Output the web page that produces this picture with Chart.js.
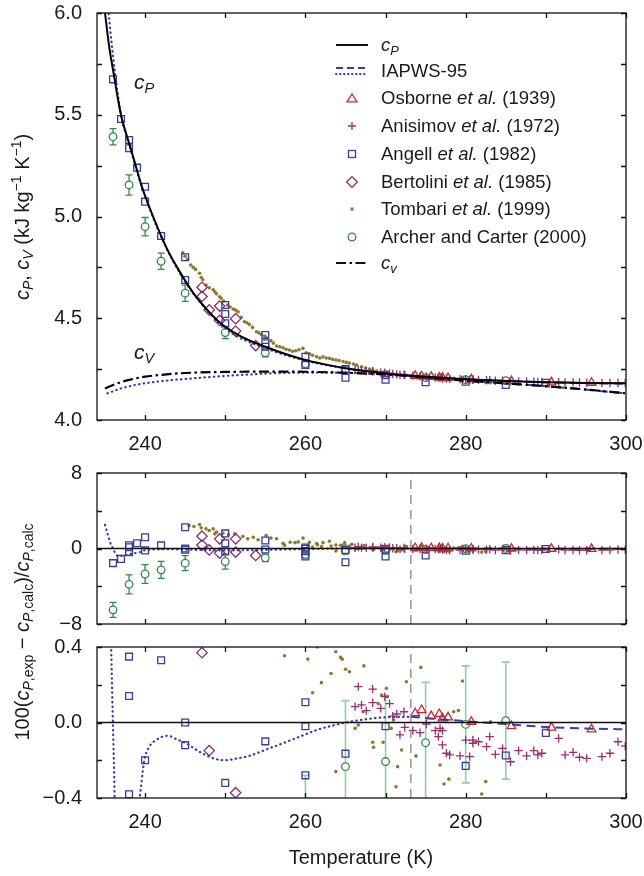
<!DOCTYPE html>
<html>
<head>
<meta charset="utf-8">
<title>Heat capacity of supercooled water</title>
<script src="https://cdn.jsdelivr.net/npm/chart.js@4.4.1/dist/chart.umd.min.js"></script>
<style>
  html, body { margin: 0; padding: 0; background: #fff; }
  body { position: relative; width: 644px; height: 876px; overflow: hidden;
         font-family: "Liberation Sans", Arial, Helvetica, sans-serif; color: #1a1a1a; }
  canvas { position: absolute; left: 0; }
  .txt { position: absolute; white-space: nowrap; }
  .ytitle { position: absolute; white-space: nowrap; font-size: 20px; line-height: 24px;
            transform: translate(-50%, -50%) rotate(-90deg); }
  sub, sup { font-size: 70%; line-height: 0; }
  sub { vertical-align: -0.3em; }
  sup { vertical-align: 0.6em; }
  .leg { position: absolute; left: 381px; font-size: 18.5px; line-height: 22px; height: 22px; white-space: nowrap; }
  .sym { position: absolute; left: 335px; width: 34px; height: 20px; }
</style>
</head>
<body>
<canvas id="cTop" width="644" height="460" style="top:0"></canvas>
<canvas id="cMid" width="644" height="180" style="top:458px"></canvas>
<canvas id="cBot" width="644" height="242" style="top:634px"></canvas>

<div class="ytitle" style="left:22px;top:217px"><i>c</i><sub><i>P</i></sub>, <i>c</i><sub><i>V</i></sub> (kJ kg<sup>−1</sup> K<sup>−1</sup>)</div>
<div class="ytitle" style="left:22px;top:632px">100(<i>c</i><sub><i>P</i>,exp</sub> − <i>c</i><sub><i>P</i>,calc</sub>)/<i>c</i><sub><i>P</i>,calc</sub></div>
<div class="txt" style="left:361px;top:846px;font-size:20px;transform:translateX(-50%)">Temperature (K)</div>

<div class="txt" style="left:134px;top:70px;font-size:21px"><i>c</i><sub><i>P</i></sub></div>
<div class="txt" style="left:134px;top:340px;font-size:21px"><i>c</i><sub><i>V</i></sub></div>

<svg class="sym" style="top:35px"><line x1="1" y1="10" x2="33" y2="10" stroke="#111" stroke-width="2"/></svg>
<div class="leg" style="top:34px"><i>c</i><sub><i>P</i></sub></div>
<svg class="sym" style="top:60.5px"><line x1="1" y1="7" x2="33" y2="7" stroke="#3a3ca8" stroke-width="2" stroke-dasharray="7,4"/><line x1="1" y1="13" x2="33" y2="13" stroke="#3a3ca8" stroke-width="2" stroke-dasharray="0.5,3.5" stroke-linecap="round"/></svg>
<div class="leg" style="top:59.5px">IAPWS-95</div>
<svg class="sym" style="top:88px"><polygon points="17,6 22,13.8 12,13.8" fill="none" stroke="#c22a2f" stroke-width="1.3"/></svg>
<div class="leg" style="top:87px">Osborne <i>et al.</i> (1939)</div>
<svg class="sym" style="top:116px"><path d="M17 6 V14 M13 10 H21" stroke="#9a2e6e" stroke-width="1.3"/></svg>
<div class="leg" style="top:115px">Anisimov <i>et al.</i> (1972)</div>
<svg class="sym" style="top:144px"><rect x="13.5" y="6.5" width="7" height="7" fill="none" stroke="#3a3c9c" stroke-width="1.3"/></svg>
<div class="leg" style="top:143px">Angell <i>et al.</i> (1982)</div>
<svg class="sym" style="top:171.5px"><polygon points="17,4.6 22.4,10 17,15.4 11.6,10" fill="none" stroke="#8c2c66" stroke-width="1.3"/></svg>
<div class="leg" style="top:170.5px">Bertolini <i>et al.</i> (1985)</div>
<svg class="sym" style="top:199px"><circle cx="17" cy="10" r="1.8" fill="#8a7c2c"/></svg>
<div class="leg" style="top:198px">Tombari <i>et al.</i> (1999)</div>
<svg class="sym" style="top:226.5px"><circle cx="17" cy="10" r="3.8" fill="none" stroke="#2f8a4c" stroke-width="1.3"/></svg>
<div class="leg" style="top:225.5px">Archer and Carter (2000)</div>
<svg class="sym" style="top:253px"><line x1="1" y1="10" x2="33" y2="10" stroke="#111" stroke-width="2" stroke-dasharray="10,3.5,2.5,3.5"/></svg>
<div class="leg" style="top:252px"><i>c</i><sub><i>v</i></sub></div>

<script>
// ---- axes ----
const xMin = 234, xMax = 300;
const xTickLabels = [240, 260, 280, 300];
const xTickMarks = [240, 250, 260, 270, 280, 290, 300];
const cpTickLabels = [4.0, 4.5, 5.0, 5.5, 6.0];
const cpTickMarks = [4.25, 4.5, 4.75, 5.0, 5.25, 5.5, 5.75];
const devTickLabels = [-8, 0, 8];
const devTickMarks = [-4, 4];
const zoomTickLabels = [-0.4, 0, 0.4];
const zoomTickMarks = [-0.2, 0.2];

// ---- curves (kJ/kg/K) ----
const cpT = [235, 235.5, 236, 236.2, 236.6, 237.1, 237.5, 238, 238.5, 238.9,
  239.6, 240.3, 241, 242, 243, 244, 245, 246, 247, 248,
  249, 250, 252, 255, 258, 260, 262, 265, 268, 270,
  273, 276, 280, 285, 290, 295, 300];
const cpVal = [6.00, 5.84, 5.72, 5.674, 5.58, 5.48, 5.425, 5.36, 5.295, 5.24,
  5.146, 5.07, 5.00, 4.905, 4.82, 4.75, 4.685, 4.625, 4.575, 4.53,
  4.49, 4.458, 4.41, 4.36, 4.318, 4.295, 4.277, 4.254, 4.238, 4.229,
  4.218, 4.21, 4.200, 4.192, 4.186, 4.182, 4.180];
const cvT = [235, 236, 237, 238, 239, 240, 242, 245, 250, 255, 260, 265, 270, 273, 276, 280, 285, 290, 295, 300];
const cvVal = [4.155, 4.172, 4.186, 4.197, 4.206, 4.213, 4.222, 4.231, 4.236, 4.238, 4.237, 4.232, 4.224, 4.216, 4.206, 4.193, 4.180, 4.166, 4.150, 4.131];

const iapwsCpT = [235.4, 235.8, 236.2, 236.6, 237.1, 238, 239, 240, 242, 245, 250, 255, 260, 265, 270, 273.15];
const iapwsCp = [6.02, 5.86, 5.72, 5.60, 5.48, 5.355, 5.22, 5.10, 4.90, 4.68, 4.45, 4.353, 4.292, 4.254, 4.23, 4.219];
const iapwsCpHiT = [273.15, 280, 290, 300];
const iapwsCpHi = [4.219, 4.200, 4.185, 4.178];
const iapwsCvT = [235.3, 237, 239, 241, 243, 245.5, 248, 251.8, 255, 258, 262, 266, 270, 273.15];
const iapwsCv = [4.131, 4.155, 4.174, 4.186, 4.195, 4.203, 4.211, 4.221, 4.228, 4.232, 4.233, 4.231, 4.223, 4.215];
const iapwsCvHiT = [273.15, 280, 290, 300];
const iapwsCvHi = [4.215, 4.193, 4.166, 4.131];

// IAPWS-95 deviation from cP,calc (%)
const iapwsDevT = [235.0, 235.3, 235.6, 235.9, 236.1, 236.4, 236.8, 237.5, 238.5, 239.3,
  239.9, 240.5, 241.5, 242.8, 244, 245.1, 247, 248.5, 250, 251.5,
  253, 255, 257.2, 259.3, 261.4, 263.5, 265.5, 267.5, 269.7, 273.15];
const iapwsDev = [2.5, 1.6, 0.75, 0.15, -0.2, -0.7, -0.8, -0.7, -0.52, -0.4,
  -0.2, -0.13, -0.09, -0.07, -0.09, -0.11, -0.16, -0.19, -0.2, -0.19,
  -0.177, -0.145, -0.11, -0.075, -0.04, -0.015, 0.004, 0.017, 0.027, 0.03];
const iapwsDevHiT = [273.15, 276.8, 280, 285, 290, 295, 300];
const iapwsDevHi = [0.03, 0.017, 0.007, -0.008, -0.024, -0.032, -0.036];

// ---- measurements ----
const osborneT = [273.7, 274.5, 275.7, 276.7, 277.1, 277.8, 280.7, 285.7, 290.7, 295.7];
const osborneCp = [4.217, 4.215, 4.212, 4.209, 4.208, 4.206, 4.200, 4.191, 4.185, 4.183];
const osborneDev = [0.049, 0.066, 0.034, 0.045, 0.022, 0.027, 0.004, -0.019, -0.027, -0.036];

const anisimovT = [266.2, 266.6, 267.0, 267.6, 268.4, 268.4, 269.4, 269.9, 270.5, 270.9,
  271.4, 271.8, 272.3, 272.4, 273.4, 274.3, 275.1, 276.2, 276.6, 276.8,
  277.1, 277.1, 277.6, 278.0, 279.3, 280.0, 280.5, 280.9, 280.9, 281.6,
  282.6, 283.0, 283.7, 284.6, 285.6, 286.6, 287.6, 288.5, 289.0, 289.5,
  291.6, 292.4, 293.4, 294.2, 295.1, 297.0, 298.0, 299.0, 299.9];
const anisimovCp = [4.248, 4.246, 4.243, 4.240, 4.240, 4.238, 4.233, 4.232, 4.229, 4.226,
  4.224, 4.222, 4.222, 4.221, 4.218, 4.215, 4.213, 4.209, 4.208, 4.208,
  4.206, 4.205, 4.204, 4.203, 4.201, 4.200, 4.198, 4.199, 4.198, 4.197,
  4.195, 4.195, 4.193, 4.193, 4.191, 4.190, 4.189, 4.188, 4.187, 4.187,
  4.186, 4.185, 4.185, 4.184, 4.183, 4.182, 4.182, 4.182, 4.181];
const anisimovDev = [0.084, 0.19, 0.093, 0.063, 0.177, 0.105, 0.075, 0.137, 0.10, 0.034,
  0.045, -0.066, 0.057, -0.026, -0.043, -0.054, -0.008, -0.043, -0.075, -0.031,
  -0.043, -0.119, -0.163, -0.172, -0.177, -0.093, -0.181, -0.093, -0.11, -0.102,
  -0.128, -0.075, -0.169, -0.137, -0.208, -0.149, -0.177, -0.149, -0.172, -0.163,
  -0.084, -0.172, -0.158, -0.184, -0.19, -0.181, -0.163, -0.102, -0.125];

const angellCpT = [236, 237, 238, 238, 239, 240, 240, 242, 245, 245, 250, 250, 250,
  255, 255, 255, 260, 260, 265, 265, 270, 270, 275, 280, 285, 290];
const angellCp = [5.674, 5.479, 5.376, 5.335, 5.24, 5.146, 5.073, 4.904, 4.80, 4.688, 4.565, 4.521, 4.475,
  4.418, 4.377, 4.36, 4.311, 4.27, 4.25, 4.208, 4.222, 4.198, 4.186, 4.188, 4.172, 4.183];
const angellDevT = [236, 237, 238, 238, 238, 239, 240, 240, 242, 245, 245, 245, 250, 250, 250,
  255, 255, 260, 260, 260, 260, 265, 265, 270, 270, 275, 280, 285, 290];
const angellDev = [-1.55, -1.1, 0.349, 0.14, -0.38, 0.56, 1.2, -0.2, 0.33, 2.26, 0.0, -0.12, 1.6, 0.56, -0.32,
  0.85, -0.10, 0.107, -0.02, -0.28, -0.85, -0.165, -1.45, -0.02, -0.85, -0.74, -0.23, -0.175, -0.055];

const bertoliniT = [247.1, 247.1, 248.0, 249.3, 249.3, 251.3, 251.3, 253.8];
const bertoliniCp = [4.652, 4.607, 4.541, 4.56, 4.489, 4.498, 4.437, 4.366];
const bertoliniDev = [1.3, 0.37, -0.149, 1.02, -0.49, 1.02, -0.372, -0.74];

const tombariCpT = [244.7, 245.0, 245.3, 245.7, 246.0, 246.3, 246.8, 247.0, 247.2, 247.6,
  248.0, 248.5, 248.7, 248.9, 249.3, 249.5, 249.8, 250.3, 250.6, 251.0,
  251.3, 251.6, 252.0, 252.4, 252.7, 253.0, 253.4, 253.9, 254.2, 254.5,
  254.9, 255.1, 255.7, 256.0, 256.4, 256.8, 257.2, 257.6, 258.0, 258.4,
  258.8, 259.2, 259.7, 260.1, 260.5, 260.9, 261.4, 261.8, 262.2, 262.6,
  263.0, 263.4, 263.8, 264.2, 264.7, 265.1, 265.5, 266.0, 266.4, 267.0,
  267.5, 268.0, 268.4, 268.9, 269.3, 269.8, 270.2, 270.8, 271.4, 271.9,
  272.5, 273.2, 273.8, 274.3, 275.5, 276.5, 277.5, 278.5, 279.6, 280.5,
  281.4, 282.5, 283.1];
const tombariCp = [4.822, 4.805, 4.79, 4.762, 4.75, 4.74, 4.721, 4.70, 4.69, 4.663,
  4.65, 4.64, 4.63, 4.62, 4.606, 4.598, 4.585, 4.565, 4.555, 4.545,
  4.54, 4.532, 4.505, 4.483, 4.478, 4.47, 4.455, 4.434, 4.428, 4.42,
  4.412, 4.406, 4.39, 4.378, 4.364, 4.36, 4.355, 4.348, 4.344, 4.338,
  4.34, 4.345, 4.352, 4.33, 4.325, 4.318, 4.311, 4.305, 4.31, 4.305,
  4.303, 4.298, 4.295, 4.292, 4.287, 4.283, 4.28, 4.275, 4.27, 4.262,
  4.255, 4.25, 4.245, 4.24, 4.235, 4.233, 4.232, 4.225, 4.222, 4.222,
  4.22, 4.218, 4.21, 4.215, 4.207, 4.20, 4.198, 4.205, 4.21, 4.198,
  4.19, 4.185, 4.195];
const tombariDevT = [245.5, 246.1, 246.8, 247.0, 247.6, 248.0, 248.5, 248.7, 248.9, 249.7,
  250.4, 251.2, 252.2, 252.8, 253.5, 254.1, 255.1, 255.7, 256.4, 257.2,
  257.4, 258.1, 258.7, 259.1, 259.7, 260.3, 260.5, 260.9, 261.4, 261.5,
  262.0, 262.2, 263.0, 263.2, 263.8, 263.8, 264.4, 264.6, 264.9, 265.0,
  265.5, 265.8, 266.2, 266.6, 267.2, 267.3, 268.4, 268.5, 269.1, 269.5,
  269.7, 270.1, 270.2, 270.7, 271.0, 271.3, 271.5, 272.0, 272.6, 273.8,
  274.4, 276.8, 277.3, 277.9, 278.5, 279.1, 279.6, 282.0, 282.5, 283.1];
const tombariDev = [2.44, 2.33, 2.54, 2.19, 2.08, 1.90, 2.08, 1.55, 1.73, 1.62,
  1.45, 1.55, 1.27, 1.03, 1.20, 0.92, 1.38, 1.10, 1.03, 0.56,
  0.354, 0.67, 0.62, 0.70, 1.10, 0.336, 0.67, 0.158, 0.53, 0.400,
  0.211, 0.62, 0.77, 0.260, 0.375, -0.260, 0.345, 0.335, 0.62, 0.282,
  0.269, 0.45, -0.031, -0.013, 0.057, 0.300, -0.105, -0.131, 0.100, 0.146,
  -0.105, 0.181, 0.137, -0.031, 0.013, -0.340, -0.234, -0.146, 0.216, -0.177,
  0.292, -0.225, -0.326, -0.300, 0.057, 0.063, 0.220, -0.379, -0.313, 0.004];

const archerT = [236, 238, 240, 242, 245, 250, 255, 260, 265, 270, 275, 280, 285];
const archerCp = [5.392, 5.155, 4.95, 4.78, 4.623, 4.43, 4.33, 4.277, 4.247, 4.221, 4.208, 4.198, 4.193];
const archerCpErr = [0.04, 0.05, 0.045, 0.04, 0.04, 0.03, 0.02, 0.015, 0.015, 0.013, 0.013, 0.013, 0.013];
const archerDev = [-6.5, -3.8, -2.7, -2.26, -1.55, -1.38, -0.99, -0.64, -0.234, -0.207, -0.107, -0.01, 0.01];
const archerDevErr = [0.8, 1.0, 1.0, 0.9, 0.8, 0.8, 0.4, 0.36, 0.35, 0.35, 0.32, 0.31, 0.31];

const meltingT = [273.15, 273.15];

// ---- styling ----
const INK = '#1a1a1a';
const FONT = { family: '"Liberation Sans", Arial, sans-serif', size: 20 };
const COL = {
  iapws: '#3a3ca8', osborne: '#c22a2f', anisimov: '#9a2e6e', angell: '#3a3c9c',
  bertolini: '#8c2c66', tombari: '#8a7c2c', archer: '#2f8a4c', archerBar: '#8fcfa2'
};
const DOTTED = [0.5, 4.2];
const DASHED = [9, 5.5];

const pts = (xs, ys) => xs.map((x, i) => ({ x: x, y: ys[i] }));

function curve(xs, ys, color, width, dash, cap) {
  return {
    data: pts(xs, ys), showLine: true, borderColor: color, borderWidth: width,
    borderDash: dash || [], borderCapStyle: cap || 'butt', pointRadius: 0,
    cubicInterpolationMode: 'monotone', capBezierPoints: false, fill: false, order: 0
  };
}

function straight(xs, ys, color, width, dash) {
  return {
    data: pts(xs, ys), showLine: true, borderColor: color, borderWidth: width,
    borderDash: dash || [], pointRadius: 0, fill: false, order: 0
  };
}

function marks(xs, ys, style, color, radius, fill, order) {
  return {
    data: pts(xs, ys), showLine: false, pointStyle: style, pointRadius: radius,
    pointBorderColor: color, pointBackgroundColor: fill || 'rgba(0,0,0,0)',
    pointBorderWidth: style === 'circle' && fill === color ? 0 : 1.3,
    order: order === undefined ? 1 : order
  };
}

function scaleSet(yMin, yMax, yLabels, fmt, showX, xHeight) {
  return {
    x: {
      type: 'linear', min: xMin, max: xMax, display: showX,
      grid: { display: false, drawTicks: false }, border: { display: false },
      ticks: { font: FONT, color: INK, padding: 12, maxRotation: 0, autoSkip: false },
      afterBuildTicks: s => { s.ticks = xTickLabels.map(v => ({ value: v })); },
      afterFit: s => { s.height = xHeight; s.paddingLeft = 0; s.paddingRight = 0; }
    },
    y: {
      type: 'linear', min: yMin, max: yMax,
      grid: { display: false, drawTicks: false }, border: { display: false },
      ticks: { font: FONT, color: INK, padding: 15, autoSkip: false, callback: fmt },
      afterBuildTicks: s => { s.ticks = yLabels.map(v => ({ value: v })); },
      afterFit: s => { s.width = 97; s.paddingTop = 0; s.paddingBottom = 0; }
    }
  };
}

// box around the plot with inward ticks on all four sides
function framePlugin(yMarks, yLabels) {
  return {
    id: 'frame',
    afterDraw(chart) {
      const { ctx, chartArea: a, scales: { x, y } } = chart;
      ctx.save();
      ctx.strokeStyle = '#111';
      ctx.lineWidth = 1.3;
      ctx.strokeRect(a.left, a.top, a.right - a.left, a.bottom - a.top);
      ctx.beginPath();
      xTickMarks.forEach(v => {
        const px = Math.round(x.getPixelForValue(v)) + 0.5;
        ctx.moveTo(px, a.bottom); ctx.lineTo(px, a.bottom - 5);
        ctx.moveTo(px, a.top); ctx.lineTo(px, a.top + 5);
      });
      yMarks.concat(yLabels).forEach(v => {
        const py = Math.round(y.getPixelForValue(v)) + 0.5;
        ctx.moveTo(a.left, py); ctx.lineTo(a.left + 5, py);
        ctx.moveTo(a.right, py); ctx.lineTo(a.right - 5, py);
      });
      ctx.stroke();
      ctx.restore();
    }
  };
}

function errorBarPlugin(xs, ys, errs, color, cap, width) {
  return {
    id: 'errbars',
    beforeDatasetsDraw(chart) {
      const { ctx, chartArea: a, scales: { x, y } } = chart;
      ctx.save();
      ctx.beginPath();
      ctx.rect(a.left, a.top, a.right - a.left, a.bottom - a.top);
      ctx.clip();
      ctx.strokeStyle = color;
      ctx.lineWidth = width;
      ctx.beginPath();
      xs.forEach((t, i) => {
        const px = x.getPixelForValue(t);
        const lo = y.getPixelForValue(ys[i] - errs[i]);
        const hi = y.getPixelForValue(ys[i] + errs[i]);
        ctx.moveTo(px, lo); ctx.lineTo(px, hi);
        ctx.moveTo(px - cap, lo); ctx.lineTo(px + cap, lo);
        ctx.moveTo(px - cap, hi); ctx.lineTo(px + cap, hi);
      });
      ctx.stroke();
      ctx.restore();
    }
  };
}

function makeChart(id, datasets, scales, padding, plugins) {
  return new Chart(document.getElementById(id), {
    type: 'scatter',
    data: { datasets: datasets },
    options: {
      responsive: false, animation: false, events: [],
      layout: { padding: padding },
      scales: scales,
      plugins: { legend: { display: false }, tooltip: { enabled: false } }
    },
    plugins: plugins
  });
}

Chart.defaults.font.family = FONT.family;

const minus = s => String(s).replace('-', '\u2212');

// deviation panels share the same marks
function devSets(yMin, yMax) {
  return [
    straight([xMin, xMax], [0, 0], '#111', 1.3),
    straight(meltingT, [yMin, yMax], '#9a9a9a', 1.6, [9, 6]),
    curve(iapwsDevT, iapwsDev, COL.iapws, 2.2, DOTTED, 'round'),
    curve(iapwsDevHiT, iapwsDevHi, COL.iapws, 2, DASHED),
    marks(osborneT, osborneDev, 'triangle', COL.osborne, 5),
    marks(anisimovT, anisimovDev, 'cross', COL.anisimov, 4.2),
    marks(angellDevT, angellDev, 'rect', COL.angell, 4.8),
    marks(bertoliniT, bertoliniDev, 'rectRot', COL.bertolini, 5.2),
    marks(tombariDevT, tombariDev, 'circle', COL.tombari, 1.8, COL.tombari, 2),
    marks(archerT, archerDev, 'circle', COL.archer, 3.8, '#ffffff', 2)
  ];
}

// ---- top: heat capacities ----
makeChart('cTop', [
  curve(cpT, cpVal, '#000', 2),
  curve(cvT, cvVal, '#000', 2.2, [10, 3.5, 2.5, 3.5]),
  curve(iapwsCpT, iapwsCp, COL.iapws, 2.2, DOTTED, 'round'),
  curve(iapwsCpHiT, iapwsCpHi, COL.iapws, 2, DASHED),
  curve(iapwsCvT, iapwsCv, COL.iapws, 2.2, DOTTED, 'round'),
  curve(iapwsCvHiT, iapwsCvHi, COL.iapws, 2, DASHED),
  marks(osborneT, osborneCp, 'triangle', COL.osborne, 5),
  marks(anisimovT, anisimovCp, 'cross', COL.anisimov, 4.2),
  marks(angellCpT, angellCp, 'rect', COL.angell, 4.8),
  marks(bertoliniT, bertoliniCp, 'rectRot', COL.bertolini, 5.2),
  marks(tombariCpT, tombariCp, 'circle', COL.tombari, 1.8, COL.tombari, 2),
  marks(archerT, archerCp, 'circle', COL.archer, 3.8, '#ffffff', 2)
], scaleSet(4.0, 6.0, cpTickLabels, v => v.toFixed(1), true, 40),
  { top: 13, right: 18, left: 0, bottom: 0 },
  [framePlugin(cpTickMarks, cpTickLabels), errorBarPlugin(archerT, archerCp, archerCpErr, COL.archer, 3.5, 1.3)]);

// ---- middle: deviations, wide range ----
makeChart('cMid', devSets(-8, 8),
  scaleSet(-8, 8, devTickLabels, v => minus(v), false, 0),
  { top: 15, right: 18, left: 0, bottom: 14 },
  [framePlugin(devTickMarks, devTickLabels), errorBarPlugin(archerT, archerDev, archerDevErr, COL.archer, 3.5, 1.3)]);

// ---- bottom: deviations, close-up ----
makeChart('cBot', devSets(-0.4, 0.4),
  scaleSet(-0.4, 0.4, zoomTickLabels, v => minus(v.toFixed(1)), true, 78),
  { top: 13, right: 18, left: 0, bottom: 0 },
  [framePlugin(zoomTickMarks, zoomTickLabels), errorBarPlugin(archerT, archerDev, archerDevErr, COL.archerBar, 4, 1.6)]);
</script>
</body>
</html>
